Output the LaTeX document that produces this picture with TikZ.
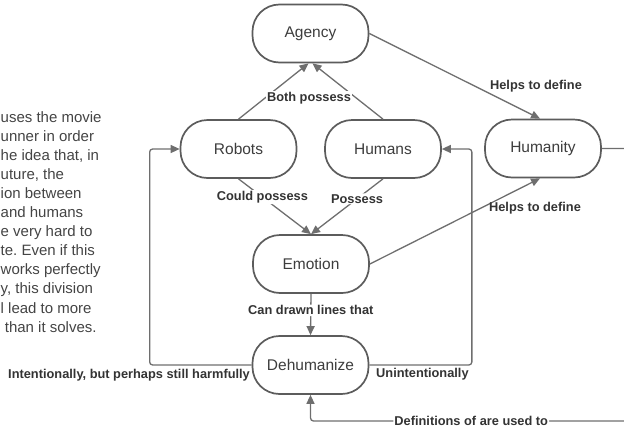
\documentclass[tikz,border=0pt]{standalone}
\usepackage{fontspec}
\setmainfont{Liberation Sans}
\usetikzlibrary{arrows.meta}
\definecolor{boxline}{HTML}{5C5C5C}
\definecolor{wire}{HTML}{6E6E6E}
\definecolor{boxtext}{HTML}{3D3D3D}
\definecolor{labeltext}{HTML}{333333}
\definecolor{bodytext}{HTML}{444444}
\frenchspacing
\begin{document}
\begin{tikzpicture}[x=1pt,y=-1pt,
  pill/.style={draw=boxline,line width=1.7pt,rounded corners=27pt,fill=white,
    minimum width=116pt,minimum height=58pt,inner sep=0pt,
    text=boxtext,font=\fontsize{15.5}{18}\selectfont},
  wireline/.style={draw=wire,line width=1.3pt,-{Triangle[length=9pt,width=8pt]},rounded corners=3pt},
  lbl/.style={text=labeltext,font=\fontsize{12.8}{15}\selectfont\bfseries,inner sep=1pt},
  lblbg/.style={lbl,fill=white},
]
\useasboundingbox (0,0) rectangle (624,429);

% boxes
\node[pill] (agency)   at (310.5,33.5) {Agency};
\node[pill] (robots)   at (238.5,149)  {Robots};
\node[pill] (humans)   at (383,149)    {Humans};
\node[pill] (humanity) at (543,148.5)  {Humanity};
\node[pill] (emotion)  at (311,264)    {Emotion};
\node[pill] (dehum)    at (310.5,365)  {Dehumanize};

% essay paragraph on the left
\node[anchor=north west,align=left,inner sep=0pt,text=bodytext,
      font=\fontsize{15}{19.1}\selectfont] (essay) at (0.5,111)
 {uses the movie\\
  unner in order\\
  he idea that, in\\
  uture, the\\
  ion between\\
  and humans\\
  e very hard to\\
  te. Even if this\\
  works perfectly\\
  y, this division\\
  l lead to more\\
  \ than it solves.};

% connectors
\draw[wireline] (robots.north) -- ([xshift=-2pt]agency.south);
\draw[wireline] (humans.north) -- ([xshift=2pt]agency.south);
\draw[wireline] (robots.south) -- node[lblbg,pos=0.33] (couldlbl) {Could possess} (emotion.north);
\draw[wireline] (humans.south) -- node[lblbg,pos=0.36] (posslbl) {Possess} (emotion.north);
\draw[wireline] (agency.east) -- ([xshift=-3pt]humanity.north);
\draw[wireline] (emotion.east) -- ([xshift=-3pt]humanity.south);
\draw[wireline] (emotion.south) -- node[lblbg,pos=0.4] (drawlbl) {Can drawn lines that} (dehum.north);
\draw[wireline] (dehum.west) -- ++(-102,0) |- (robots.west);
\draw[wireline] (dehum.east) -- ++(102.5,0) |- (humans.east);
\coordinate (farright) at (632,148.5);
\coordinate (farcorner) at (632,421);
\draw[wireline] (humanity.east) -- (farright) -- (farcorner) -| node[lblbg,pos=0.25] (deflbl) {Definitions of are used to} (dehum.south);

% free-standing labels
\node[lblbg] (bothlbl) at (309,98) {Both possess};
\node[lbl] (help1) at (536,86) {Helps to define};
\node[lbl] (help2) at (535,208) {Helps to define};
\node[lbl,anchor=east] (intlbl) at (251,375) {Intentionally, but perhaps still harmfully};
\node[lbl,anchor=west] (unintlbl) at (375,374) {Unintentionally};
\end{tikzpicture}
\end{document}
